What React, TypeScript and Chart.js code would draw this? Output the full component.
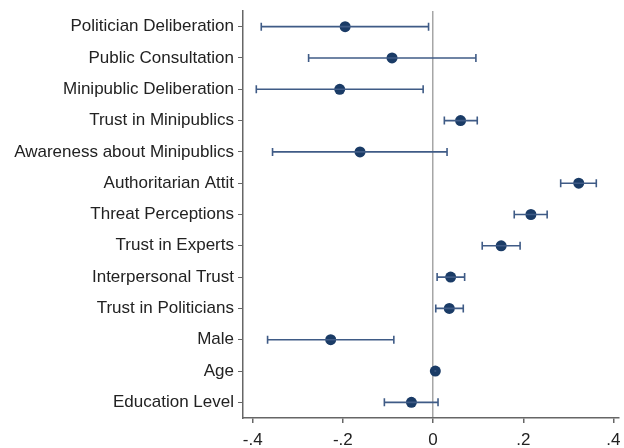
import React, { useEffect, useRef } from "react";
import { Chart, registerables } from "chart.js";

Chart.register(...registerables);

const categories = [
  "Politician Deliberation",
  "Public Consultation",
  "Minipublic Deliberation",
  "Trust in Minipublics",
  "Awareness about Minipublics",
  "Authoritarian Attit",
  "Threat Perceptions",
  "Trust in Experts",
  "Interpersonal Trust",
  "Trust in Politicians",
  "Male",
  "Age",
  "Education Level",
];
const estimates = [-0.195, -0.091, -0.207, 0.061, -0.162, 0.323, 0.217, 0.151, 0.039, 0.036, -0.227, 0.005, -0.048];
const lower = [-0.381, -0.276, -0.392, 0.025, -0.356, 0.283, 0.18, 0.109, 0.009, 0.006, -0.367, 0.003, -0.108];
const upper = [-0.01, 0.095, -0.022, 0.098, 0.031, 0.362, 0.253, 0.193, 0.07, 0.067, -0.087, 0.007, 0.011];
const xTicks = [-0.4, -0.2, 0, 0.2, 0.4];

const fmt = (v: number) => {
  if (Math.abs(v) < 1e-9) return "0";
  const s = v.toFixed(1);
  return s.replace(/^(-?)0\./, "$1.");
};

export default function App() {
  const ref = useRef<HTMLCanvasElement | null>(null);
  useEffect(() => {
    document.body.style.margin = "0";
    const font = { family: "'Liberation Sans', Arial, sans-serif", size: 17 };
    const ciSets = categories.map((_, i) => ({
      type: "line" as const,
      data: [
        { x: lower[i], y: i + 1 },
        { x: upper[i], y: i + 1 },
      ],
      borderColor: "#3f5b86",
      borderWidth: 1.6,
      pointStyle: "line" as const,
      rotation: 90,
      pointRadius: i === 11 ? 0 : 4,
      pointBorderColor: "#3f5b86",
      pointBorderWidth: 1.6,
      pointHoverRadius: 0,
    }));
    const chart = new Chart(ref.current!, {
      type: "scatter",
      data: {
        datasets: [
          ...ciSets,
          {
            type: "scatter" as const,
            data: estimates.map((v, i) => ({ x: v, y: i + 1 })),
            backgroundColor: "#1a3b66",
            borderColor: "#1a3b66",
            pointRadius: 5.5,
            pointBorderWidth: 0,
          },
        ] as any,
      },
      options: {
        animation: false,
        responsive: false,
        maintainAspectRatio: false,
        layout: { padding: { top: 11, right: 2, bottom: 0, left: 0 } },
        plugins: { legend: { display: false }, tooltip: { enabled: false } },
        scales: {
          x: {
            type: "linear",
            min: -0.4215,
            max: 0.411,
            afterBuildTicks: (axis: any) => {
              axis.ticks = xTicks.map((v) => ({ value: v }));
            },
            afterFit: (axis: any) => {
              axis.height = 30;
              axis.paddingLeft = 0;
              axis.paddingRight = 0;
            },
            ticks: {
              callback: (v: any) => fmt(Number(v)),
              font,
              color: "#222",
              padding: 7,
              maxRotation: 0,
              autoSkip: false,
            },
            grid: {
              drawOnChartArea: true,
              color: (ctx: any) => (ctx.tick && ctx.tick.value === 0 ? "#a6a6a6" : "rgba(0,0,0,0)"),
              lineWidth: 1.5,
              tickColor: "#666",
              tickLength: 5,
            },
            border: { color: "#666", width: 1.5 },
          },
          y: {
            type: "linear",
            reverse: true,
            min: 0.5,
            max: 13.5,
            afterBuildTicks: (axis: any) => {
              axis.ticks = categories.map((_, i) => ({ value: i + 1 }));
            },
            afterFit: (axis: any) => {
              axis.width = 243;
              axis.paddingTop = 0;
              axis.paddingBottom = 0;
            },
            ticks: {
              callback: (v: any) => categories[Number(v) - 1] ?? "",
              font,
              color: "#222",
              padding: 4,
              autoSkip: false,
            },
            grid: { drawOnChartArea: false, tickColor: "#666", tickLength: 5 },
            border: { color: "#666", width: 1.5 },
          },
        },
      },
    } as any);
    return () => chart.destroy();
  }, []);
  return (
    <div style={{ width: 624, height: 448 }}>
      <canvas ref={ref} width={624} height={448} style={{ display: "block" }} />
    </div>
  );
}
